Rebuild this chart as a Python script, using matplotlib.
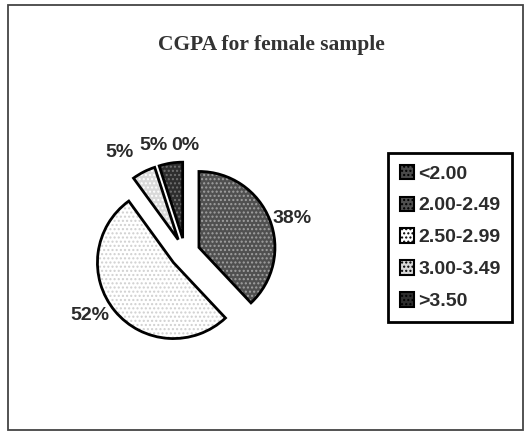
import numpy as np
import matplotlib
matplotlib.use("Agg")
import matplotlib.pyplot as plt
from matplotlib.patches import Wedge, Rectangle, Patch

# CGPA distribution, female sample (percent)
categories = ["<2.00", "2.00-2.49", "2.50-2.99", "3.00-3.49", ">3.50"]
percent = [0, 38, 52, 5, 5]
title = "CGPA for female sample"

faces = ["#4a4a4a", "#505050", "#ffffff", "#d9d9d9", "#2e2e2e"]
hatch_cols = ["#bbbbbb", "#a0a0a0", "#d0d0d0", "#ffffff", "#707070"]
# how far out each data label sits (in radii)
label_dist = [1.22, 1.04, 1.1, 1.29, 1.24]

W, H = 527, 432
fig = plt.figure(figsize=(W / 100, H / 100), dpi=100)
ax = fig.add_axes([0, 0, 1, 1])

R = 76
ctr = (185, H - 253)

# explode is in data units here (pixels)
wedges, _ = ax.pie(
    percent, explode=[15] * len(percent), startangle=90, counterclock=False,
    radius=R, center=ctr, labeldistance=None,
)
for w, fc, hc, p, d in zip(wedges, faces, hatch_cols, percent, label_dist):
    w.set_facecolor(fc)
    w.set_edgecolor(hc)
    w.set_hatch("....")
    w.set_linewidth(0)
    if w.theta2 - w.theta1 > 0:
        ax.add_patch(Wedge(w.center, w.r, w.theta1, w.theta2, fill=False,
                           edgecolor="black", linewidth=2.0))
    th = np.deg2rad((w.theta1 + w.theta2) / 2)
    dx, dy = np.cos(th) * d * R, np.sin(th) * d * R
    ha = "left" if dx > 2 else ("right" if dx < -2 else "center")
    ax.text(w.center[0] + dx, w.center[1] + dy, f"{p}%", ha=ha, va="center",
            fontsize=14, fontweight="bold", family="Liberation Sans",
            color="#2b2b2b")

ax.set_xlim(0, W)
ax.set_ylim(0, H)
ax.set_aspect("equal")
ax.axis("off")

# outer chart frame
ax.add_patch(Rectangle((8, 2), W - 12, H - 7, fill=False,
                       edgecolor="#444444", linewidth=1.3))

ax.text(271, H - 45, title, ha="center", va="center", fontsize=15.5,
        fontweight="bold", family="Liberation Serif", color="#333333")

handles = [Patch(facecolor=fc, edgecolor="black", hatch="....", linewidth=1.5)
           for fc in faces]
leg = fig.legend(handles, categories, loc="upper left",
                 bbox_to_anchor=(388 / W, 1 - 153 / H), borderaxespad=0,
                 prop=dict(family="Liberation Sans", weight="bold", size=14),
                 handlelength=0.75, handleheight=0.75, handletextpad=0.2,
                 labelspacing=0.72, borderpad=0.6, fancybox=False,
                 framealpha=1, edgecolor="black")
leg.get_frame().set_linewidth(2.0)
for t in leg.get_texts():
    t.set_color("#2b2b2b")

fig.savefig("out.png", dpi=100)
